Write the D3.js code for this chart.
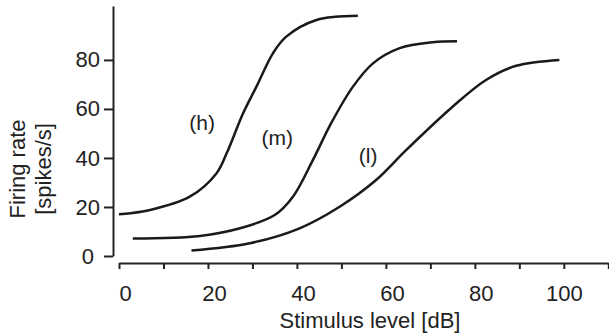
<!DOCTYPE html>
<html>
<head>
<meta charset="utf-8">
<script src="https://cdn.jsdelivr.net/npm/d3@7"></script>
<style>
  body { margin: 0; background: #fff; }
  text { font-family: "Liberation Sans", Arial, sans-serif; fill: #222; }
</style>
</head>
<body>
<svg id="chart" width="609" height="334"></svg>
<script>
// stimulus level (dB) / firing rate (spikes/s)
const highX = [0, 7, 15.9, 21.9, 24.2, 27.9, 30.9, 34.6, 37.6, 44.4, 53.7];
const highY = [17, 18.8, 24.2, 33.7, 41.9, 58.2, 69.1, 82.7, 89.5, 96.3, 98];
const medX = [3.1, 18.2, 27.2, 35, 39.1, 43.6, 47.7, 52.6, 57.1, 63.1, 70.5, 76];
const medY = [7.1, 8.2, 11.3, 16.7, 24.2, 39.2, 54.2, 69.1, 78.6, 84.8, 87.2, 87.6];
const lowX = [16.3, 29.4, 40.6, 49.6, 57.8, 64.6, 75, 82.5, 89.3, 99];
const lowY = [2.2, 5.2, 11.3, 20.1, 31, 43.3, 60.9, 71.8, 77.6, 80];

const curveNames = ["(h)", "(m)", "(l)"];
const labelX = [18.7, 35.6, 56.0];
const labelY = [51.4, 45.3, 38.0];

const xTicks = [0, 10, 20, 30, 40, 50, 60, 70, 80, 90, 100, 110];
const xTickLabels = [0, 20, 40, 60, 80, 100];
const yTicks = [0, 20, 40, 60, 80];

let svg = d3.select("#chart");

let x = d3.scaleLinear().domain([0, 110]).range([119, 608.3]);
let y = d3.scaleLinear().domain([0, 102]).range([256, 6]);

// y axis
let yAxis = svg.append("g")
  .attr("transform", "translate(113,0)")
  .call(d3.axisLeft(y).tickValues(yTicks).tickSize(9).tickSizeOuter(0).tickPadding(4));
yAxis.select(".domain").attr("stroke", "#222").attr("stroke-width", 2);
yAxis.selectAll(".tick line").attr("stroke", "#222").attr("stroke-width", 2);
yAxis.selectAll(".tick text")
  .attr("font-size", "22px")
  .attr("fill", "#222")
  .attr("dx", (d) => (d == 0 ? -6 : 0));

// x axis
let xAxis = svg.append("g")
  .attr("transform", "translate(0,263)")
  .call(d3.axisBottom(x).tickValues(xTicks).tickSize(6).tickSizeOuter(0)
    .tickFormat((d) => (xTickLabels.includes(d) ? d : "")).tickPadding(16));
xAxis.select(".domain").attr("stroke", "#222").attr("stroke-width", 2);
xAxis.selectAll(".tick line").attr("stroke", "#222").attr("stroke-width", 2);
xAxis.selectAll(".tick text")
  .attr("font-size", "22px")
  .attr("fill", "#222")
  .attr("dx", (d) => (d < 100 ? 6 : 0));

// axis titles
svg.append("text")
  .attr("transform", "translate(25,169) rotate(-90)")
  .attr("text-anchor", "middle")
  .attr("font-size", "22px")
  .text("Firing rate");
svg.append("text")
  .attr("transform", "translate(51,169) rotate(-90)")
  .attr("text-anchor", "middle")
  .attr("font-size", "22px")
  .text("[spikes/s]");
svg.append("text")
  .attr("x", 370)
  .attr("y", 328)
  .attr("text-anchor", "middle")
  .attr("font-size", "22px")
  .text("Stimulus level [dB]");

// curves
let line = d3.line()
  .x((d) => x(d[0]))
  .y((d) => y(d[1]))
  .curve(d3.curveCatmullRom.alpha(0.5));

let series = [
  d3.zip(highX, highY),
  d3.zip(medX, medY),
  d3.zip(lowX, lowY)
];

svg.selectAll(".curve")
  .data(series)
  .enter()
  .append("path")
  .attr("class", "curve")
  .attr("fill", "none")
  .attr("stroke", "#1a1a1a")
  .attr("stroke-width", 2.5)
  .attr("d", line);

svg.selectAll(".label")
  .data(curveNames)
  .enter()
  .append("text")
  .attr("class", "label")
  .attr("x", (d, i) => x(labelX[i]))
  .attr("y", (d, i) => y(labelY[i]))
  .attr("text-anchor", "middle")
  .attr("font-size", "21px")
  .text((d) => d);
</script>
</body>
</html>
